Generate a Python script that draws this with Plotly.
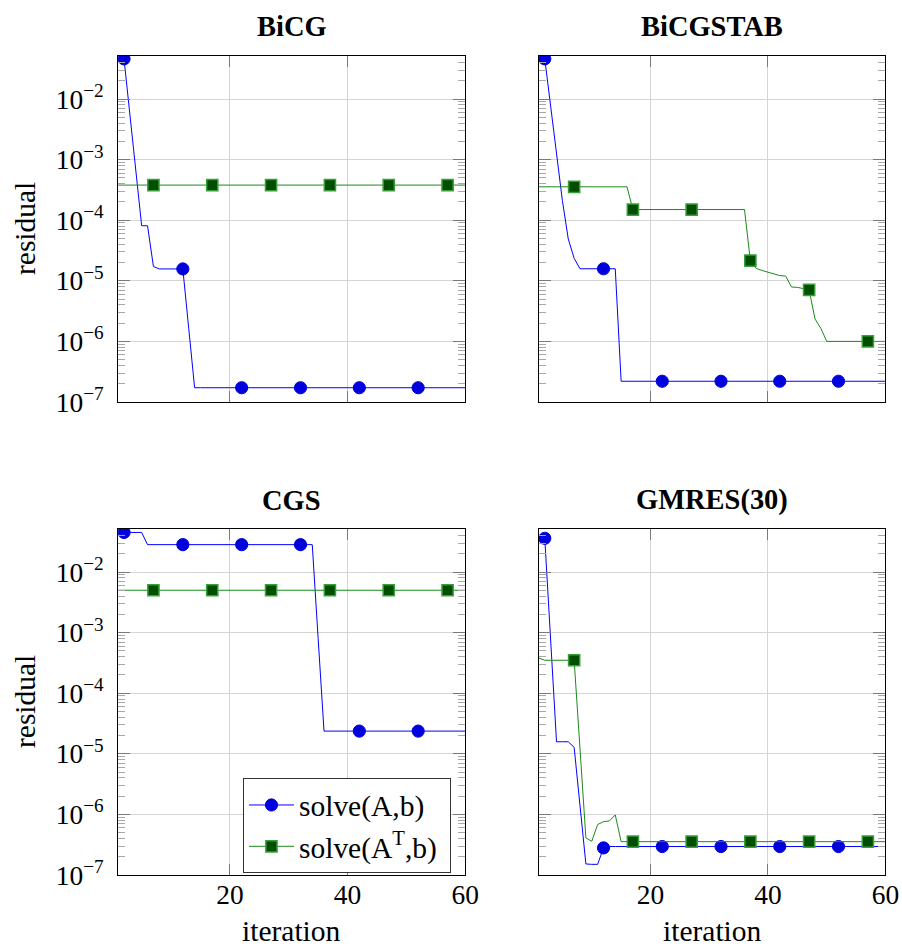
import plotly.graph_objects as go

# ---------------- data ----------------
iters_A = list(range(2, 61))    # solve(A,b) iterations
iters_AT = list(range(1, 61))   # solve(A^T,b) iterations
marks_A = [2, 12, 22, 32, 42, 52]
marks_AT = [7, 17, 27, 37, 47, 57]

bicg_A = [4.6e-2, 5.5e-3, 6.6e-4, 8.1e-5, 8.1e-5, 1.72e-5, 1.57e-5, 1.57e-5, 1.57e-5, 1.57e-5,
          1.57e-5, 1.64e-6, 1.72e-7, 1.72e-7, 1.72e-7, 1.72e-7, 1.72e-7, 1.72e-7, 1.72e-7, 1.72e-7,
          1.72e-7, 1.72e-7, 1.72e-7, 1.72e-7, 1.72e-7, 1.72e-7, 1.72e-7, 1.72e-7, 1.72e-7, 1.72e-7,
          1.72e-7, 1.72e-7, 1.72e-7, 1.72e-7, 1.72e-7, 1.72e-7, 1.72e-7, 1.72e-7, 1.72e-7, 1.72e-7,
          1.72e-7, 1.72e-7, 1.72e-7, 1.72e-7, 1.72e-7, 1.72e-7, 1.72e-7, 1.72e-7, 1.72e-7, 1.72e-7,
          1.72e-7, 1.72e-7, 1.72e-7, 1.72e-7, 1.72e-7, 1.72e-7, 1.72e-7, 1.72e-7, 1.72e-7]
bicg_AT = [3.8e-4, 3.8e-4, 3.8e-4, 3.8e-4, 3.8e-4, 3.8e-4, 3.8e-4, 3.8e-4, 3.8e-4, 3.8e-4,
           3.8e-4, 3.8e-4, 3.8e-4, 3.8e-4, 3.8e-4, 3.8e-4, 3.8e-4, 3.8e-4, 3.8e-4, 3.8e-4,
           3.8e-4, 3.8e-4, 3.8e-4, 3.8e-4, 3.8e-4, 3.8e-4, 3.8e-4, 3.8e-4, 3.8e-4, 3.8e-4,
           3.8e-4, 3.8e-4, 3.8e-4, 3.8e-4, 3.8e-4, 3.8e-4, 3.8e-4, 3.8e-4, 3.8e-4, 3.8e-4,
           3.8e-4, 3.8e-4, 3.8e-4, 3.8e-4, 3.8e-4, 3.8e-4, 3.8e-4, 3.8e-4, 3.8e-4, 3.8e-4,
           3.8e-4, 3.8e-4, 3.8e-4, 3.8e-4, 3.8e-4, 3.8e-4, 3.8e-4, 3.8e-4, 3.8e-4, 3.8e-4]

bicgstab_A = [4.6e-2, 7.2e-3, 1.15e-3, 2.1e-4, 4.9e-5, 2.35e-5, 1.58e-5, 1.58e-5, 1.58e-5, 1.58e-5,
              1.58e-5, 1.58e-5, 1.58e-5, 2.2e-7, 2.2e-7, 2.2e-7, 2.2e-7, 2.2e-7, 2.2e-7, 2.2e-7,
              2.2e-7, 2.2e-7, 2.2e-7, 2.2e-7, 2.2e-7, 2.2e-7, 2.2e-7, 2.2e-7, 2.2e-7, 2.2e-7,
              2.2e-7, 2.2e-7, 2.2e-7, 2.2e-7, 2.2e-7, 2.2e-7, 2.2e-7, 2.2e-7, 2.2e-7, 2.2e-7,
              2.2e-7, 2.2e-7, 2.2e-7, 2.2e-7, 2.2e-7, 2.2e-7, 2.2e-7, 2.2e-7, 2.2e-7, 2.2e-7,
              2.2e-7, 2.2e-7, 2.2e-7, 2.2e-7, 2.2e-7, 2.2e-7, 2.2e-7, 2.2e-7, 2.2e-7]
bicgstab_AT = [3.56e-4, 3.56e-4, 3.56e-4, 3.56e-4, 3.56e-4, 3.56e-4, 3.56e-4, 3.56e-4, 3.56e-4, 3.56e-4,
               3.56e-4, 3.56e-4, 3.56e-4, 3.56e-4, 3.56e-4, 3.56e-4, 1.5e-4, 1.5e-4, 1.5e-4, 1.5e-4,
               1.5e-4, 1.5e-4, 1.5e-4, 1.5e-4, 1.5e-4, 1.5e-4, 1.5e-4, 1.5e-4, 1.5e-4, 1.5e-4,
               1.5e-4, 1.5e-4, 1.5e-4, 1.5e-4, 1.5e-4, 1.5e-4, 2.15e-5, 1.6e-5, 1.48e-5, 1.38e-5,
               1.3e-5, 1.22e-5, 1.2e-5, 7.9e-6, 7.8e-6, 7.5e-6, 7.1e-6, 2.35e-6, 1.64e-6, 1.0e-6,
               1.0e-6, 1.0e-6, 1.0e-6, 1.0e-6, 1.0e-6, 1.0e-6, 1.0e-6, 1.0e-6, 1.0e-6, 1.0e-6]

cgs_A = [4.5e-2, 4.5e-2, 4.5e-2, 4.5e-2, 2.83e-2, 2.83e-2, 2.83e-2, 2.83e-2, 2.83e-2, 2.83e-2,
         2.83e-2, 2.83e-2, 2.83e-2, 2.83e-2, 2.83e-2, 2.83e-2, 2.83e-2, 2.83e-2, 2.83e-2, 2.83e-2,
         2.83e-2, 2.83e-2, 2.83e-2, 2.83e-2, 2.83e-2, 2.83e-2, 2.83e-2, 2.83e-2, 2.83e-2, 2.83e-2,
         2.83e-2, 2.83e-2, 2.83e-2, 8.0e-4, 2.37e-5, 2.37e-5, 2.37e-5, 2.37e-5, 2.37e-5, 2.37e-5,
         2.37e-5, 2.37e-5, 2.37e-5, 2.37e-5, 2.37e-5, 2.37e-5, 2.37e-5, 2.37e-5, 2.37e-5, 2.37e-5,
         2.37e-5, 2.37e-5, 2.37e-5, 2.37e-5, 2.37e-5, 2.37e-5, 2.37e-5, 2.37e-5, 2.37e-5]
cgs_AT = [5.0e-3, 5.0e-3, 5.0e-3, 5.0e-3, 5.0e-3, 5.0e-3, 5.0e-3, 5.0e-3, 5.0e-3, 5.0e-3,
          5.0e-3, 5.0e-3, 5.0e-3, 5.0e-3, 5.0e-3, 5.0e-3, 5.0e-3, 5.0e-3, 5.0e-3, 5.0e-3,
          5.0e-3, 5.0e-3, 5.0e-3, 5.0e-3, 5.0e-3, 5.0e-3, 5.0e-3, 5.0e-3, 5.0e-3, 5.0e-3,
          5.0e-3, 5.0e-3, 5.0e-3, 5.0e-3, 5.0e-3, 5.0e-3, 5.0e-3, 5.0e-3, 5.0e-3, 5.0e-3,
          5.0e-3, 5.0e-3, 5.0e-3, 5.0e-3, 5.0e-3, 5.0e-3, 5.0e-3, 5.0e-3, 5.0e-3, 5.0e-3,
          5.0e-3, 5.0e-3, 5.0e-3, 5.0e-3, 5.0e-3, 5.0e-3, 5.0e-3, 5.0e-3, 5.0e-3, 5.0e-3]

gmres_A = [3.6e-2, 9.3e-4, 1.58e-5, 1.58e-5, 1.58e-5, 1.28e-5, 1.4e-6, 1.52e-7, 1.5e-7, 1.5e-7,
           2.8e-7, 2.95e-7, 2.95e-7, 2.95e-7, 2.95e-7, 2.95e-7, 2.95e-7, 2.95e-7, 2.95e-7, 2.95e-7,
           2.95e-7, 2.95e-7, 2.95e-7, 2.95e-7, 2.95e-7, 2.95e-7, 2.95e-7, 2.95e-7, 2.95e-7, 2.95e-7,
           2.95e-7, 2.95e-7, 2.95e-7, 2.95e-7, 2.95e-7, 2.95e-7, 2.95e-7, 2.95e-7, 2.95e-7, 2.95e-7,
           2.95e-7, 2.95e-7, 2.95e-7, 2.95e-7, 2.95e-7, 2.95e-7, 2.95e-7, 2.95e-7, 2.95e-7, 2.95e-7,
           2.95e-7, 2.95e-7, 2.95e-7, 2.95e-7, 2.95e-7, 2.95e-7, 2.95e-7, 2.95e-7, 2.95e-7]
gmres_AT = [3.8e-4, 3.5e-4, 3.5e-4, 3.5e-4, 3.5e-4, 3.5e-4, 3.5e-4, 1.2e-5, 4.1e-7, 3.6e-7,
            6.8e-7, 7.6e-7, 7.8e-7, 9.8e-7, 3.55e-7, 3.55e-7, 3.55e-7, 3.55e-7, 3.55e-7, 3.55e-7,
            3.55e-7, 3.55e-7, 3.55e-7, 3.55e-7, 3.55e-7, 3.55e-7, 3.55e-7, 3.55e-7, 3.55e-7, 3.55e-7,
            3.55e-7, 3.55e-7, 3.55e-7, 3.55e-7, 3.55e-7, 3.55e-7, 3.55e-7, 3.55e-7, 3.55e-7, 3.55e-7,
            3.55e-7, 3.55e-7, 3.55e-7, 3.55e-7, 3.55e-7, 3.55e-7, 3.55e-7, 3.55e-7, 3.55e-7, 3.55e-7,
            3.55e-7, 3.55e-7, 3.55e-7, 3.55e-7, 3.55e-7, 3.55e-7, 3.55e-7, 3.55e-7, 3.55e-7, 3.55e-7]

titles = ["BiCG", "BiCGSTAB", "CGS", "GMRES(30)"]
series_A = [bicg_A, bicgstab_A, cgs_A, gmres_A]
series_AT = [bicg_AT, bicgstab_AT, cgs_AT, gmres_AT]
legend_names = ["solve(A,b)&nbsp;", "solve(A<sup>T</sup>,b)&nbsp;"]

x_ticks = [20, 40, 60]
y_exps = [-7, -6, -5, -4, -3, -2]
y_ticks = [10.0 ** e for e in y_exps]
y_ticktext = ["10<sup>\u2212%d</sup>" % (-e) for e in y_exps]
y_minor = [m * 10.0 ** e for e in range(-7, -1) for m in range(2, 10)]

# ---------------- styles ----------------
FONT = "Liberation Serif"
BLUE_LINE = "#0000ff"
BLUE_MARK = "#0000dd"
GREEN_LINE = "#1a8a1a"
GREEN_FILL = "#004f00"
GREEN_EDGE = "#3a9e3a"
GRID = "#d4d4d4"
TICK = "#7a7a7a"

# target layout measured in a 902x949 frame; the page renders slightly reduced,
# so the figure is enlarged by S and all pixel sizes scaled accordingly
TW, TH = 902, 949
S = 1.017
W, H = round(TW * S), round(TH * S)


def px(x):
    return x / TW


def py(y):
    return 1 - y / TH


def sz(v):
    return v * S


xdoms = [[px(118), px(464.7)], [px(538.3), px(884.5)]]
ydoms = [[py(402), py(56)], [py(875), py(529)]]

fig = go.Figure()

for i in range(4):
    sfx = "" if i == 0 else str(i + 1)
    xr, yr = "x" + sfx, "y" + sfx
    ya, yat = series_A[i], series_AT[i]
    lookup_A = dict(zip(iters_A, ya))
    lookup_AT = dict(zip(iters_AT, yat))
    fig.add_trace(go.Scatter(x=iters_A, y=ya, mode="lines", line=dict(color=BLUE_LINE, width=1),
                             xaxis=xr, yaxis=yr, showlegend=False, hoverinfo="skip"))
    fig.add_trace(go.Scatter(x=marks_A, y=[lookup_A[m] for m in marks_A], mode="markers",
                             marker=dict(symbol="circle", size=sz(12), color=BLUE_MARK,
                                         line=dict(color=BLUE_MARK, width=1)),
                             xaxis=xr, yaxis=yr, showlegend=False, hoverinfo="skip"))
    fig.add_trace(go.Scatter(x=iters_AT, y=yat, mode="lines", line=dict(color=GREEN_LINE, width=1),
                             xaxis=xr, yaxis=yr, showlegend=False, hoverinfo="skip"))
    fig.add_trace(go.Scatter(x=marks_AT, y=[lookup_AT[m] for m in marks_AT], mode="markers",
                             marker=dict(symbol="square", size=sz(11), color=GREEN_FILL,
                                         line=dict(color=GREEN_EDGE, width=1.5)),
                             xaxis=xr, yaxis=yr, showlegend=False, hoverinfo="skip"))

# legend entries (drawn in the CGS panel)
fig.add_trace(go.Scatter(x=[None], y=[None], mode="lines+markers", name=legend_names[0],
                         line=dict(color=BLUE_LINE, width=1),
                         marker=dict(symbol="circle", size=sz(12), color=BLUE_MARK,
                                     line=dict(color=BLUE_MARK, width=1)),
                         xaxis="x3", yaxis="y3"))
fig.add_trace(go.Scatter(x=[None], y=[None], mode="lines+markers", name=legend_names[1],
                         line=dict(color=GREEN_LINE, width=1),
                         marker=dict(symbol="square", size=sz(11), color=GREEN_FILL,
                                     line=dict(color=GREEN_EDGE, width=1.5)),
                         xaxis="x3", yaxis="y3"))

layout = dict(
    width=W, height=H, margin=dict(l=0, r=0, t=0, b=0),
    paper_bgcolor="white", plot_bgcolor="white",
    font=dict(family=FONT, size=sz(27), color="black"),
    showlegend=True,
    legend=dict(x=px(242.7), y=py(778.3), xanchor="left", yanchor="top",
                bgcolor="white", bordercolor="#333333", borderwidth=1,
                font=dict(family=FONT, size=sz(29)), tracegroupgap=0, itemwidth=45),
)

for i in range(4):
    sfx = "" if i == 0 else str(i + 1)
    col, row = i % 2, i // 2
    layout["xaxis" + sfx] = dict(
        domain=xdoms[col], anchor="y" + sfx, range=[1, 60],
        tickmode="array", tickvals=x_ticks, ticktext=[str(v) for v in x_ticks],
        showticklabels=(row == 1), ticks="inside", ticklen=sz(11), tickwidth=1, tickcolor=TICK,
        showgrid=True, gridcolor=GRID, gridwidth=1, zeroline=False,
        showline=True, linecolor="black", linewidth=1, mirror="allticks",
        tickfont=dict(family=FONT, size=sz(27)), ticklabelstandoff=-5,
    )
    layout["yaxis" + sfx] = dict(
        domain=ydoms[row], anchor="x" + sfx, type="log", range=[-7, -1.29],
        tickmode="array", tickvals=y_ticks, ticktext=y_ticktext,
        showticklabels=(col == 0), ticks="inside", ticklen=sz(12), tickwidth=1, tickcolor=TICK,
        showgrid=True, gridcolor=GRID, gridwidth=1, zeroline=False,
        showline=True, linecolor="black", linewidth=1, mirror="allticks",
        tickfont=dict(family=FONT, size=sz(27)), ticklabelstandoff=8,
        minor=dict(tickmode="array", tickvals=y_minor, ticks="inside", ticklen=sz(7),
                   tickwidth=1, tickcolor="#a8a8a8", showgrid=False),
    )

annotations = []
title_pos = [(291.3, 26), (711.4, 26), (291.3, 500), (711.4, 500)]
for t, (tx, ty) in zip(titles, title_pos):
    annotations.append(dict(text="<b>%s</b>" % t, x=px(tx), y=py(ty), xref="paper", yref="paper",
                            showarrow=False, xanchor="center", yanchor="middle",
                            font=dict(family=FONT, size=sz(28))))
for ty in (229, 702):
    annotations.append(dict(text="residual", x=px(25), y=py(ty), xref="paper", yref="paper",
                            showarrow=False, textangle=-90, xanchor="center", yanchor="middle",
                            font=dict(family=FONT, size=sz(29))))
for tx in (291.3, 711.4):
    annotations.append(dict(text="iteration", x=px(tx), y=py(931), xref="paper", yref="paper",
                            showarrow=False, xanchor="center", yanchor="middle",
                            font=dict(family=FONT, size=sz(29))))
layout["annotations"] = annotations

fig.update_layout(**layout)
fig.write_html("out.html")
